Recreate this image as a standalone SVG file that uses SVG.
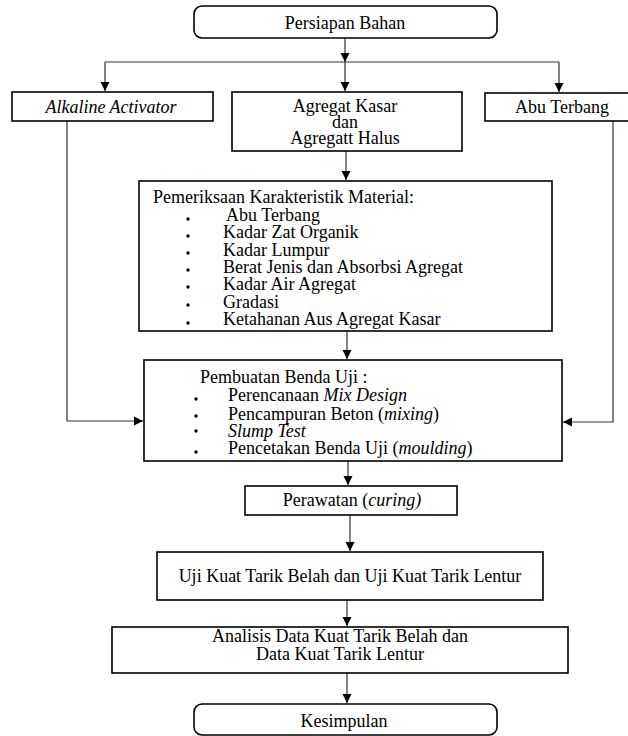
<svg xmlns="http://www.w3.org/2000/svg" width="628" height="736" viewBox="0 0 628 736">
<defs>
<marker id="ah" markerWidth="12" markerHeight="12" refX="9" refY="5.5" orient="auto" markerUnits="userSpaceOnUse">
<path d="M0,1 L9,5.5 L0,10 Z" fill="#000"/>
</marker>
<style>
.box{fill:#fff;stroke:#000;stroke-width:1.6}
.t{font-family:"Liberation Serif","Times New Roman",serif;font-size:18px;fill:#000}
.c{text-anchor:middle}
.i{font-style:italic}
.ln{fill:none;stroke:#333;stroke-width:1.2}
.b{fill:#000}
</style>
</defs>
<rect width="628" height="736" fill="#fff"/>
<g id="connectors">
<line class="ln" x1="345" y1="38" x2="345" y2="62" marker-end="url(#ah)"/>
<line class="ln" x1="105" y1="62" x2="559" y2="62"/>
<line class="ln" x1="105" y1="62" x2="105" y2="91" marker-end="url(#ah)"/>
<line class="ln" x1="559" y1="62" x2="559" y2="92" marker-end="url(#ah)"/>
<line class="ln" x1="345" y1="62" x2="345" y2="91" marker-end="url(#ah)"/>
<line class="ln" x1="346" y1="151" x2="346" y2="180" marker-end="url(#ah)"/>
<line class="ln" x1="347" y1="331" x2="347" y2="359" marker-end="url(#ah)"/>
<polyline class="ln" points="67,121 67,421 143,421" marker-end="url(#ah)"/>
<polyline class="ln" points="613,121 613,422 563,422" marker-end="url(#ah)"/>
<line class="ln" x1="348" y1="461" x2="348" y2="485" marker-end="url(#ah)"/>
<line class="ln" x1="350" y1="515" x2="350" y2="551" marker-end="url(#ah)"/>
<line class="ln" x1="347" y1="600" x2="347" y2="626" marker-end="url(#ah)"/>
<line class="ln" x1="347" y1="673" x2="347" y2="703" marker-end="url(#ah)"/>
</g>
<g id="persiapan">
<rect class="box" x="194" y="6" width="303" height="32" rx="8"/>
<text class="t c" x="345" y="29">Persiapan Bahan</text>
</g>
<g id="alkaline">
<rect class="box" x="12" y="92" width="201" height="29"/>
<text class="t c i" x="111" y="113">Alkaline Activator</text>
</g>
<g id="agregat">
<rect class="box" x="232" y="92" width="230" height="59"/>
<text class="t c" x="345" y="112">Agregat Kasar</text>
<text class="t c" x="345" y="128">dan</text>
<text class="t c" x="345" y="144">Agregatt Halus</text>
</g>
<g id="abu">
<rect class="box" x="485" y="93" width="150" height="28"/>
<text class="t c" x="562" y="113">Abu Terbang</text>
</g>
<g id="pemeriksaan">
<rect class="box" x="139" y="181" width="413" height="150"/>
<text class="t" x="153" y="203">Pemeriksaan Karakteristik Material:</text>
<circle class="b" cx="188" cy="219" r="1.7"/>
<circle class="b" cx="188" cy="236" r="1.7"/>
<circle class="b" cx="188" cy="253" r="1.7"/>
<circle class="b" cx="188" cy="270" r="1.7"/>
<circle class="b" cx="188" cy="287" r="1.7"/>
<circle class="b" cx="188" cy="305" r="1.7"/>
<circle class="b" cx="188" cy="323" r="1.7"/>
<text class="t" x="226" y="221">Abu Terbang</text>
<text class="t" x="223" y="238">Kadar Zat Organik</text>
<text class="t" x="223" y="256">Kadar Lumpur</text>
<text class="t" x="223" y="273">Berat Jenis dan Absorbsi Agregat</text>
<text class="t" x="223" y="290">Kadar Air Agregat</text>
<text class="t" x="223" y="308">Gradasi</text>
<text class="t" x="223" y="325">Ketahanan Aus Agregat Kasar</text>
</g>
<g id="pembuatan">
<rect class="box" x="144" y="360" width="418" height="101"/>
<text class="t" x="200" y="383">Pembuatan Benda Uji :</text>
<circle class="b" cx="196" cy="399" r="1.7"/>
<circle class="b" cx="196" cy="416" r="1.7"/>
<circle class="b" cx="196" cy="431" r="1.7"/>
<circle class="b" cx="196" cy="452" r="1.7"/>
<text class="t" x="228" y="401">Perencanaan <tspan class="i">Mix Design</tspan></text>
<text class="t" x="228" y="420">Pencampuran Beton (<tspan class="i">mixing</tspan>)</text>
<text class="t i" x="228" y="437">Slump Test</text>
<text class="t" x="228" y="454">Pencetakan Benda Uji (<tspan class="i">moulding</tspan>)</text>
</g>
<g id="perawatan">
<rect class="box" x="245" y="486" width="212" height="29"/>
<text class="t c" x="352" y="506">Perawatan (<tspan class="i">curing)</tspan></text>
</g>
<g id="uji">
<rect class="box" x="157" y="552" width="386" height="48"/>
<text class="t c" x="350" y="582">Uji Kuat Tarik Belah dan Uji Kuat Tarik Lentur</text>
</g>
<g id="analisis">
<rect class="box" x="112" y="627" width="456" height="46"/>
<text class="t c" x="340" y="642">Analisis Data Kuat Tarik Belah dan</text>
<text class="t c" x="340" y="660">Data Kuat Tarik Lentur</text>
</g>
<g id="kesimpulan">
<rect class="box" x="194" y="704" width="303" height="31" rx="8"/>
<text class="t c" x="344" y="727">Kesimpulan</text>
</g>
</svg>
